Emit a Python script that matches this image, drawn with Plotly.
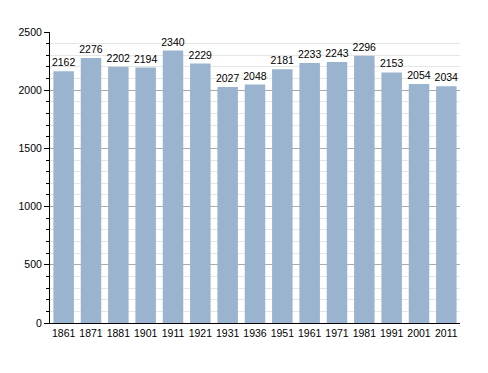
import plotly.graph_objects as go

years = ["1861", "1871", "1881", "1901", "1911", "1921", "1931", "1936",
         "1951", "1961", "1971", "1981", "1991", "2001", "2011"]
population = [2162, 2276, 2202, 2194, 2340, 2229, 2027, 2048,
              2181, 2233, 2243, 2296, 2153, 2054, 2034]

FONT = "Liberation Sans, Arial"

fig = go.Figure()
fig.add_trace(go.Bar(
    x=years, y=population,
    marker=dict(color="#9ab4cf", line=dict(width=0)),
    text=[str(v) for v in population],
    textposition="outside",
    constraintext="none",
    textfont=dict(family=FONT, size=10.5, color="#000"),
    cliponaxis=False,
))

fig.update_layout(
    width=488, height=373,
    margin=dict(l=42, r=36, t=24, b=58),
    plot_bgcolor="white", paper_bgcolor="white",
    bargap=0.25,
    showlegend=False,
    font=dict(family=FONT, size=10.5, color="#000"),
)
fig.update_xaxes(
    type="category",
    showline=True, linecolor="#000", linewidth=1,
    ticks="", tickangle=0, tickfont=dict(size=10.5),
    showgrid=False,
)
fig.update_yaxes(
    range=[0, 2500],
    tickvals=[0, 500, 1000, 1500, 2000, 2500],
    showline=True, linecolor="#000", linewidth=1,
    ticks="outside", ticklen=5, tickcolor="#000",
    showgrid=True, gridcolor="#aaaaaa", gridwidth=1,
    minor=dict(dtick=100, showgrid=True, gridcolor="#e6e6e6",
               ticks="outside", ticklen=3, tickcolor="#000"),
    zeroline=False,
    tickfont=dict(size=10.5),
)

fig.write_html("out.html")
